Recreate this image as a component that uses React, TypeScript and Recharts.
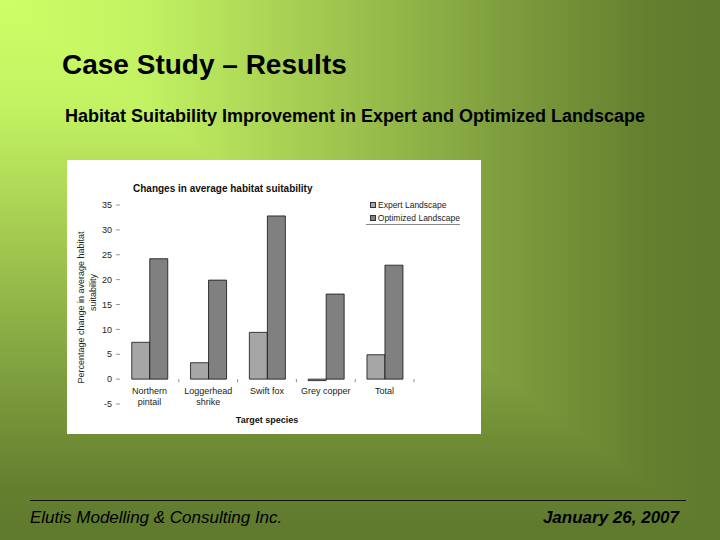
import React from "react";
import { BarChart, Bar, XAxis, YAxis, Legend } from "recharts";

// ---- data ----
const categories = ["Northern pintail", "Loggerhead shrike", "Swift fox", "Grey copper", "Total"];
const labelLine1 = ["Northern", "Loggerhead", "Swift fox", "Grey copper", "Total"];
const labelLine2 = ["pintail", "shrike", "", "", ""];
const expertValues = [7.4, 3.3, 9.4, -0.3, 4.9];
const optimizedValues = [24.2, 19.9, 32.8, 17.1, 22.9];
const yTicks = [-5, 0, 5, 10, 15, 20, 25, 30, 35];
const seriesNames = ["Expert Landscape", "Optimized Landscape"];

const data = categories.map((c, i) => ({
  name: c,
  expert: expertValues[i],
  optimized: optimizedValues[i],
}));

// ---- layout ----
const CHART_W = 414;
const CHART_H = 274;
const MARGIN = { top: 45, right: 67, bottom: 0, left: 0 };
const Y_AXIS_W = 53;
const X_AXIS_H = 30;
const PLOT_H = CHART_H - MARGIN.top - MARGIN.bottom - X_AXIS_H;
const PLOT_W = CHART_W - MARGIN.left - MARGIN.right - Y_AXIS_W;
const Y_MIN = -5;
const Y_MAX = 35;
const ZERO_SHIFT = (PLOT_H * (0 - Y_MIN)) / (Y_MAX - Y_MIN);
const CAT_W = PLOT_W / categories.length;

const FONT = "'Liberation Sans', Arial, sans-serif";
const EXPERT_FILL = "#a6a6a6";
const OPT_FILL = "#808080";

const CategoryTick = (props: any) => {
  const { x, y, index } = props;
  const zeroY = y - ZERO_SHIFT;
  return (
    <g>
      <line x1={x + CAT_W / 2} x2={x + CAT_W / 2} y1={zeroY} y2={zeroY + 3} stroke="#888" strokeWidth={1} />
      <text x={x} y={zeroY + 15} textAnchor="middle" fontSize={9} fontFamily={FONT} fill="#222">
        {labelLine1[index]}
      </text>
      {labelLine2[index] ? (
        <text x={x} y={zeroY + 26} textAnchor="middle" fontSize={9} fontFamily={FONT} fill="#222">
          {labelLine2[index]}
        </text>
      ) : null}
    </g>
  );
};

const YLabel = (props: any) => {
  const vb = props.viewBox || { x: 0, y: 0, width: 0, height: 0 };
  const cy = vb.y + vb.height / 2;
  const x1 = vb.x + 14;
  const x2 = vb.x + 26;
  const c1 = cy + 3;
  const c2 = cy - 12;
  return (
    <g>
      <text
        x={x1}
        y={c1}
        transform={`rotate(-90 ${x1} ${c1})`}
        textAnchor="middle"
        dominantBaseline="central"
        fontSize={9}
        fontFamily={FONT}
        fill="#222"
      >
        Percentage change in average habitat
      </text>
      <text
        x={x2}
        y={c2}
        transform={`rotate(-90 ${x2} ${c2})`}
        textAnchor="middle"
        dominantBaseline="central"
        fontSize={9}
        fontFamily={FONT}
        fill="#222"
      >
        suitability
      </text>
    </g>
  );
};

const XLabel = (props: any) => {
  const vb = props.viewBox || { x: 0, y: 0, width: 0, height: 0 };
  return (
    <text
      x={vb.x + vb.width / 2}
      y={vb.y + 19}
      textAnchor="middle"
      fontSize={9}
      fontWeight="bold"
      fontFamily={FONT}
      fill="#111"
    >
      Target species
    </text>
  );
};

const LegendContent = () => {
  const fills = [EXPERT_FILL, OPT_FILL];
  return (
    <div style={{ width: 94, borderBottom: "1px solid #888", fontFamily: FONT }}>
      {seriesNames.map((n, i) => (
        <div key={n} style={{ height: 13, display: "flex", alignItems: "center" }}>
          <div
            style={{
              marginLeft: 4,
              width: 4,
              height: 4,
              background: fills[i],
              border: "1px solid #333",
            }}
          />
          <span style={{ marginLeft: 2, fontSize: 8.5, color: "#222", whiteSpace: "nowrap" }}>{n}</span>
        </div>
      ))}
    </div>
  );
};

export default function App() {
  return (
    <div
      style={{
        position: "absolute",
        left: 0,
        top: 0,
        width: 720,
        height: 540,
        overflow: "hidden",
        background:
          "linear-gradient(to right, #ccff66 0%, #c2f262 20%, #a2c850 45%, #7e9e3e 70%, #64802f 90%, #5f792d 100%), linear-gradient(to bottom, #ccff66 0%, #c2f262 20%, #a2c850 45%, #7e9e3e 70%, #64802f 90%, #5f792d 100%)",
        backgroundBlendMode: "darken",
        fontFamily: FONT,
      }}
    >
      <div
        style={{
          position: "absolute",
          left: 62,
          top: 51,
          fontSize: 28,
          lineHeight: "28px",
          fontWeight: "bold",
          color: "#000",
          whiteSpace: "nowrap",
        }}
      >
        Case Study – Results
      </div>
      <div
        style={{
          position: "absolute",
          left: 65,
          top: 107,
          fontSize: 18,
          lineHeight: "18px",
          fontWeight: "bold",
          color: "#000",
          whiteSpace: "nowrap",
        }}
      >
        Habitat Suitability Improvement in Expert and Optimized Landscape
      </div>

      <div
        style={{
          position: "absolute",
          left: 67,
          top: 160,
          width: CHART_W,
          height: CHART_H,
          background: "#ffffff",
        }}
      >
        <div
          style={{
            position: "absolute",
            left: 66,
            top: 24,
            fontSize: 10,
            lineHeight: "10px",
            fontWeight: "bold",
            color: "#111",
            whiteSpace: "nowrap",
          }}
        >
          Changes in average habitat suitability
        </div>
        <BarChart
          width={CHART_W}
          height={CHART_H}
          data={data}
          margin={MARGIN}
          barCategoryGap="20%"
          barGap={0}
        >
          <XAxis
            dataKey="name"
            height={X_AXIS_H}
            axisLine={false}
            tickLine={false}
            tickSize={0}
            tickMargin={0}
            interval={0}
            tick={<CategoryTick />}
            label={<XLabel />}
          />
          <YAxis
            type="number"
            width={Y_AXIS_W}
            domain={[Y_MIN, Y_MAX]}
            ticks={yTicks}
            interval={0}
            axisLine={false}
            tickLine={{ stroke: "#999" }}
            tickSize={4}
            tickMargin={4}
            tick={{ fontSize: 9, fontFamily: FONT, fill: "#222" }}
            label={<YLabel />}
          />
          <Legend
            layout="horizontal"
            verticalAlign="middle"
            align="center"
            wrapperStyle={{ position: "absolute", left: 299, top: 38, width: 94 }}
            content={<LegendContent />}
          />
          <Bar
            dataKey="expert"
            name={seriesNames[0]}
            fill={EXPERT_FILL}
            stroke="#111"
            strokeWidth={0.8}
            isAnimationActive={false}
          />
          <Bar
            dataKey="optimized"
            name={seriesNames[1]}
            fill={OPT_FILL}
            stroke="#111"
            strokeWidth={0.8}
            isAnimationActive={false}
          />
        </BarChart>
      </div>

      <div
        style={{
          position: "absolute",
          left: 30,
          top: 500,
          width: 656,
          height: 1,
          background: "#111",
        }}
      />
      <div
        style={{
          position: "absolute",
          left: 30,
          top: 509,
          fontSize: 17,
          lineHeight: "17px",
          fontStyle: "italic",
          color: "#000",
          whiteSpace: "nowrap",
        }}
      >
        Elutis Modelling &amp; Consulting Inc.
      </div>
      <div
        style={{
          position: "absolute",
          right: 41,
          top: 509,
          fontSize: 17,
          lineHeight: "17px",
          fontStyle: "italic",
          fontWeight: "bold",
          color: "#000",
          whiteSpace: "nowrap",
        }}
      >
        January 26, 2007
      </div>
    </div>
  );
}
